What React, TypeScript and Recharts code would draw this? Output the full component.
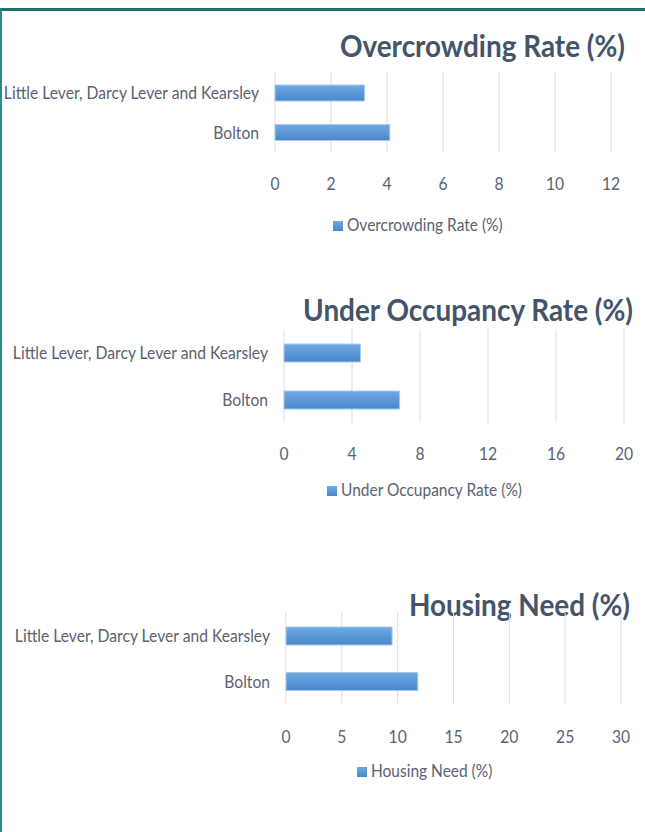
import React from 'react';
import { BarChart, Bar, XAxis, YAxis, CartesianGrid, Legend } from 'recharts';

const categories = ['Little Lever, Darcy Lever and Kearsley', 'Bolton'];
const overcrowdingValues = [3.2, 4.1];
const underOccupancyValues = [4.5, 6.8];
const housingNeedValues = [9.5, 11.8];
const overcrowdingTicks = [0, 2, 4, 6, 8, 10, 12];
const underOccupancyTicks = [0, 4, 8, 12, 16, 20];
const housingNeedTicks = [0, 5, 10, 15, 20, 25, 30];

const FONT = "Lato, 'Open Sans', sans-serif";
const TEXT = '#5B6270';
const TITLE = '#44546A';
const SX = 0.87;
const LEGEND_SX = 0.86;
const TITLE_SX = 0.9;

function YTick(props: any) {
  const { x, y, payload } = props;
  return (
    <text
      transform={`translate(${x},${y}) scale(${SX},1)`}
      x={0}
      y={0}
      dy="0.355em"
      textAnchor="end"
      fill={TEXT}
      fontSize={18}
      fontFamily={FONT}
    >
      {payload.value}
    </text>
  );
}

function XTick(props: any) {
  const { x, y, payload } = props;
  return (
    <text
      transform={`translate(${x},${y}) scale(${SX},1)`}
      x={0}
      y={0}
      dy="0.71em"
      textAnchor="middle"
      fill={TEXT}
      fontSize={18}
      fontFamily={FONT}
    >
      {payload.value}
    </text>
  );
}

type PanelProps = {
  id: string;
  title: string;
  series: string;
  values: number[];
  ticks: number[];
  panelTop: number;
  height: number;
  plotLeft: number;
  plotRight: number;
  plotTop: number;
  plotBottom: number;
  tickCenter: number;
  legendCenter: number;
  legendLeft: number;
  titleRight: number;
  titleCapCenter: number;
  barSize: number;
};

function Panel(p: PanelProps) {
  const data = categories.map((c, i) => ({ name: c, value: p.values[i] }));
  const axisH = 40;
  const marginTop = p.plotTop - p.panelTop;
  const marginBottom = p.height - (p.plotBottom - p.panelTop) - axisH;
  const tickMargin = Math.round(p.tickCenter - p.plotBottom - 6.3);
  return (
    <>
      <div
        style={{
          position: 'absolute',
          left: 0,
          width: p.titleRight,
          top: p.titleCapCenter - 15,
          textAlign: 'right',
          fontFamily: FONT,
          fontWeight: 700,
          fontSize: 31,
          lineHeight: 1,
          color: TITLE,
          whiteSpace: 'nowrap',
          transform: `scaleX(${TITLE_SX})`,
          transformOrigin: 'right center',
        }}
      >
        {p.title}
      </div>
      <div style={{ position: 'absolute', left: 0, top: p.panelTop, width: 645, height: p.height }}>
        <BarChart
          width={645}
          height={p.height}
          data={data}
          layout="vertical"
          margin={{ top: marginTop, right: 645 - p.plotRight, bottom: marginBottom, left: 0 }}
          barCategoryGap={0}
          style={{ fontFamily: FONT }}
        >
          <defs>
            <linearGradient id={`grad-${p.id}`} x1="0" y1="0" x2="0" y2="1">
              <stop offset="0%" stopColor="#70A9E1" />
              <stop offset="100%" stopColor="#4887CC" />
            </linearGradient>
          </defs>
          <CartesianGrid horizontal={false} vertical stroke="#DCDCE0" strokeWidth={1} />
          <XAxis
            type="number"
            domain={[p.ticks[0], p.ticks[p.ticks.length - 1]]}
            ticks={p.ticks}
            axisLine={false}
            tickLine={false}
            tickSize={0}
            tickMargin={tickMargin}
            height={axisH}
            interval={0}
            tick={<XTick />}
          />
          <YAxis
            type="category"
            dataKey="name"
            width={p.plotLeft}
            axisLine={false}
            tickLine={false}
            tickSize={0}
            tickMargin={16}
            interval={0}
            tick={<YTick />}
          />
          <Legend
            layout="horizontal"
            verticalAlign="middle"
            align="center"
            iconType="square"
            iconSize={10}
            wrapperStyle={{
              top: p.legendCenter - p.panelTop - 11,
              left: p.legendLeft,
              width: 'auto',
              lineHeight: '22px',
              fontSize: 18,
              fontFamily: FONT,
            }}
            formatter={(v: string) => (
              <span
                style={{
                  color: TEXT,
                  display: 'inline-block',
                  transform: `scaleX(${LEGEND_SX})`,
                  transformOrigin: 'left center',
                }}
              >
                {v}
              </span>
            )}
          />
          <Bar
            dataKey="value"
            name={p.series}
            fill={`url(#grad-${p.id})`}
            stroke="#A9CBEC"
            strokeWidth={1}
            barSize={p.barSize}
            isAnimationActive={false}
            legendType="square"
          />
        </BarChart>
      </div>
    </>
  );
}

export default function App() {
  return (
    <div
      style={{
        position: 'absolute',
        left: 0,
        top: 0,
        width: 645,
        height: 832,
        background: '#FFFFFF',
        overflow: 'hidden',
      }}
    >
      <div
        style={{
          position: 'absolute',
          left: 0,
          top: 8,
          width: 645,
          height: 832 - 8,
          borderTop: '3px solid #1F706B',
          borderLeft: '2px solid #2A8E88',
          boxSizing: 'border-box',
        }}
      />
      <Panel
        id="oc"
        title="Overcrowding Rate (%)"
        series="Overcrowding Rate (%)"
        values={overcrowdingValues}
        ticks={overcrowdingTicks}
        panelTop={20}
        height={230}
        plotLeft={275}
        plotRight={611}
        plotTop={73}
        plotBottom={152}
        tickCenter={183}
        legendCenter={224}
        legendLeft={333}
        titleRight={625}
        titleCapCenter={45}
        barSize={16}
      />
      <Panel
        id="uo"
        title="Under Occupancy Rate (%)"
        series="Under Occupancy Rate (%)"
        values={underOccupancyValues}
        ticks={underOccupancyTicks}
        panelTop={280}
        height={230}
        plotLeft={284}
        plotRight={624}
        plotTop={329}
        plotBottom={423}
        tickCenter={453}
        legendCenter={489}
        legendLeft={327}
        titleRight={633}
        titleCapCenter={309}
        barSize={18}
      />
      <Panel
        id="hn"
        title="Housing Need (%)"
        series="Housing Need (%)"
        values={housingNeedValues}
        ticks={housingNeedTicks}
        panelTop={570}
        height={230}
        plotLeft={286}
        plotRight={621}
        plotTop={613}
        plotBottom={704}
        tickCenter={736}
        legendCenter={770}
        legendLeft={357}
        titleRight={630}
        titleCapCenter={604}
        barSize={18}
      />
    </div>
  );
}
